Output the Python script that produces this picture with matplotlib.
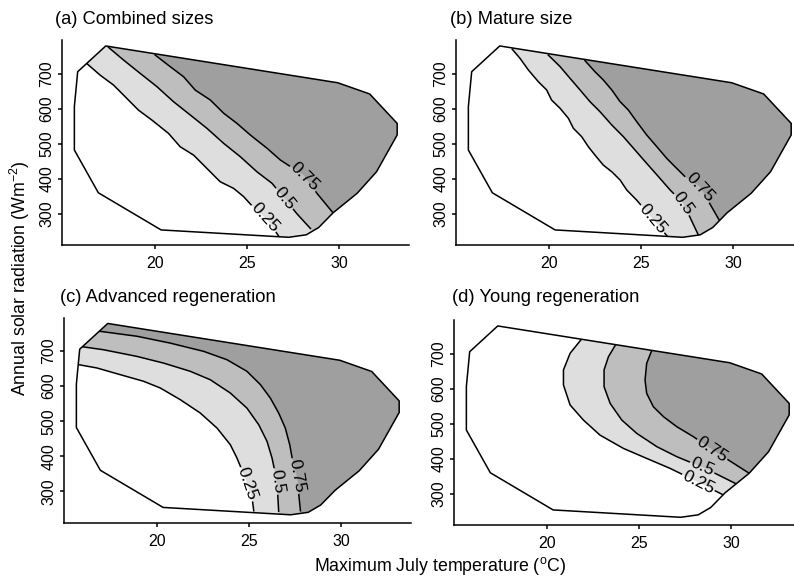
import numpy as np
import matplotlib
matplotlib.use("Agg")
import matplotlib.pyplot as plt
from matplotlib.patches import Polygon

plt.rcParams['font.family'] = ['Liberation Sans', 'DejaVu Sans']
plt.rcParams['mathtext.fontset'] = 'custom'
plt.rcParams['mathtext.rm'] = 'Liberation Sans'
plt.rcParams['mathtext.it'] = 'Liberation Sans:italic'

# ------------------------------------------------------------------
# climate space (max July temperature, annual solar radiation)
hull = [(17.34, 779), (29.91, 674), (31.64, 642), (33.13, 558), (33.13, 525),
        (32.01, 420), (30.96, 358.5), (29.66, 303), (28.88, 261), (28.2, 240),
        (27.25, 233), (20.34, 254), (16.94, 360), (15.64, 482), (15.64, 606),
        (15.82, 705.5)]

levels = ['0.25', '0.5', '0.75']
fills = ['#dedede', '#bebebe', '#9f9f9f']

# (a) Combined sizes
a_025 = [(16.31, 729), (17.03, 696), (17.76, 667.5), (18.3, 639), (19.11, 596),
         (19.84, 567.5), (20.74, 529.5), (21.37, 491.5), (22.1, 467.5), (22.82, 429.5),
         (23.54, 391.5), (24.27, 372.5), (24.81, 349), (25.4, 315), (26.1, 284), (26.7, 237)]
a_05 = [(17.49, 775), (18.3, 739), (19.2, 701), (20.11, 663), (21.01, 620), (21.92, 582),
        (22.82, 544), (23.73, 501), (24.63, 463), (25.53, 420), (26.35, 387), (27.02, 344),
        (27.7, 300), (28.43, 258)]
a_075 = [(20.02, 753), (20.83, 720), (21.56, 691), (22.19, 653), (23.0, 625), (23.73, 587),
         (24.45, 558), (25.17, 525), (26.08, 487), (26.8, 453.5), (28.07, 410), (28.79, 358),
         (29.65, 303)]
a_lab = [(26.08, 296.5), (27.04, 344), (28.1, 405)]

# (b) Mature size
b_025 = [(18.02, 769.5), (18.44, 743.5), (18.89, 710.5), (19.43, 677), (19.88, 653.5),
         (20.15, 624.5), (20.61, 601), (21.06, 572.5), (21.33, 544), (21.78, 520),
         (22.14, 491.5), (22.5, 467.5), (22.95, 439), (23.41, 420), (23.86, 396.5),
         (24.22, 368), (24.76, 339), (26.45, 234)]
b_05 = [(19.97, 753), (20.61, 720), (21.15, 686.5), (21.69, 653.5), (22.23, 620),
        (22.77, 591.5), (23.41, 553.5), (24.04, 520), (24.67, 482), (25.3, 444),
        (25.94, 406), (26.57, 368), (27.29, 330), (28.1, 239.5)]
b_075 = [(21.96, 737), (22.5, 705.5), (22.95, 682), (23.41, 653.5), (23.86, 620),
         (24.31, 596), (24.76, 563), (25.3, 525), (25.85, 491.5), (26.39, 458),
         (26.93, 429.5), (27.38, 406), (28.19, 377.5), (29.28, 277.5)]
b_lab = [(25.95, 300), (27.29, 330), (28.25, 378)]

# (c) Advanced regeneration
c_025 = [(15.75, 661.5), (16.75, 652), (18.01, 633), (19.28, 614), (20.18, 595),
         (21.27, 561.5), (22.35, 523.5), (23.26, 480.5), (23.98, 433), (24.34, 395),
         (24.79, 338), (25.16, 281), (25.25, 244.5)]
c_05 = [(15.84, 713.5), (17.11, 704), (18.92, 685), (20.36, 666), (21.81, 642.5),
        (22.89, 618.5), (23.98, 580.5), (24.88, 537.5), (25.52, 490), (25.97, 442.5),
        (26.24, 395), (26.51, 328.5), (26.6, 243)]
c_075 = [(16.93, 756.5), (18.92, 742.5), (20.72, 723), (22.53, 699.5), (23.8, 675.5),
         (24.88, 642.5), (25.61, 604.5), (26.15, 566), (26.6, 523.5), (26.96, 480.5),
         (27.2, 433), (27.33, 395), (27.6, 338), (27.78, 244.5)]
c_lab = [(25.06, 323.5), (26.51, 328.5), (27.8, 347)]

# (d) Young regeneration
d_025 = [(21.84, 739), (21.26, 701), (20.9, 653.5), (20.9, 610.5), (21.26, 553.5),
         (21.98, 510.5), (22.88, 467.5), (24.15, 429.5), (25.41, 401), (26.68, 372.5),
         (28.1, 336), (29.57, 296.5)]
d_05 = [(23.75, 727.5), (23.34, 691.5), (23.1, 653.5), (23.1, 605.5), (23.43, 558),
        (24.06, 510.5), (24.87, 472.5), (25.96, 434.5), (27.04, 406), (28.6, 372),
        (30.2, 330)]
d_075 = [(25.68, 708.5), (25.41, 672.5), (25.32, 624.5), (25.41, 586.5), (25.77, 548.5),
         (26.32, 520), (27.04, 491.5), (27.94, 463), (29.05, 423), (30.92, 360)]
d_lab = [(28.25, 336.5), (28.57, 394.5), (29.06, 434.5)]

titles = ['(a) Combined sizes', '(b) Mature size',
          '(c) Advanced regeneration', '(d) Young regeneration']
lines = [[a_025, a_05, a_075], [b_025, b_05, b_075],
         [c_025, c_05, c_075], [d_025, d_05, d_075]]
labpos = [a_lab, b_lab, c_lab, d_lab]

x_ticks = [20, 25, 30]
y_ticks = [300, 400, 500, 600, 700]

# ------------------------------------------------------------------
W, H = 794, 581
fig = plt.figure(figsize=(W / 100, H / 100), dpi=100)
renderer = fig.canvas.get_renderer()

# axes boxes in pixels: left, top, width, height
boxes = [(62, 40, 347, 205), (456, 40, 347, 205),
         (64, 317.5, 347, 205), (454, 320, 347, 205)]
title_xy = [(55, 23.5), (450, 23.5), (60, 302.5), (451.5, 302.5)]


def band_polygon(ax, pts):
    # contour line pushed past the hull, closed round the high side
    pts = np.asarray(pts, float)
    d = ax.transData.transform(pts)
    u0 = (d[0] - d[1]) / np.hypot(*(d[0] - d[1]))
    u1 = (d[-1] - d[-2]) / np.hypot(*(d[-1] - d[-2]))
    ends = ax.transData.inverted().transform([d[0] + 40 * u0, d[-1] + 40 * u1])
    far = np.array([(60, -500), (60, 2000), (-20, 2000)])
    return np.vstack([ends[0], pts, ends[1], far])


def draw_contour(ax, pts, text, lab, clip, fs=12.5):
    pts = np.asarray(pts, float)
    d = ax.transData.transform(pts)
    seg = np.diff(d, axis=0)
    seglen = np.hypot(seg[:, 0], seg[:, 1])
    cum = np.concatenate([[0], np.cumsum(seglen)])
    p = ax.transData.transform(lab)
    best = (1e9, 0)
    for i in range(len(seg)):
        t = np.clip(np.dot(p - d[i], seg[i]) / seglen[i] ** 2, 0, 1)
        q = d[i] + t * seg[i]
        dist = np.hypot(*(p - q))
        if dist < best[0]:
            best = (dist, cum[i] + t * seglen[i])
    s0 = best[1]
    tmp = ax.text(0, 0, text, fontsize=fs)
    half = tmp.get_window_extent(renderer).width / 2 + 2
    tmp.remove()

    def at(s):
        return np.array([np.interp(s, cum, d[:, 0]), np.interp(s, cum, d[:, 1])])

    s1, s2 = max(s0 - half, 0), min(s0 + half, cum[-1])
    part1 = np.vstack([d[cum < s1], at(s1)])
    part2 = np.vstack([at(s2), d[cum > s2]])
    inv = ax.transData.inverted()
    for part in (part1, part2):
        xy = inv.transform(part)
        ln, = ax.plot(xy[:, 0], xy[:, 1], color='black', lw=1.1, zorder=5,
                      solid_joinstyle='round')
        ln.set_clip_path(clip)
    v = at(s2) - at(s1)
    ang = np.degrees(np.arctan2(v[1], v[0]))
    if ang > 90:
        ang -= 180
    elif ang < -90:
        ang += 180
    c = inv.transform(at(s0))
    ax.text(c[0], c[1], text, fontsize=fs, rotation=ang, rotation_mode='anchor',
            ha='center', va='center', zorder=7)


for k in range(4):
    l, t, w, h = boxes[k]
    ax = fig.add_axes([l / W, 1 - (t + h) / H, w / W, h / H])
    ax.set_xlim(14.97, 33.77)
    ax.set_ylim(211, 796)
    for s in ['top', 'right']:
        ax.spines[s].set_visible(False)
    for s in ['left', 'bottom']:
        ax.spines[s].set_linewidth(1.1)
    ax.set_xticks(x_ticks)
    ax.set_xticklabels([str(v) for v in x_ticks], fontsize=11.5)
    ax.set_yticks(y_ticks)
    ax.set_yticklabels([str(v) for v in y_ticks], fontsize=11.5, rotation=90, va='center')
    ax.tick_params(axis='both', direction='out', length=3, width=1.1)
    ax.tick_params(axis='x', pad=5)
    ax.tick_params(axis='y', pad=2.5)

    clip = Polygon(hull, closed=True, transform=ax.transData)
    ax.add_patch(Polygon(hull, closed=True, facecolor='white', edgecolor='none', zorder=1))
    for j in range(3):
        band = Polygon(band_polygon(ax, lines[k][j]), closed=True,
                       facecolor=fills[j], edgecolor='none', zorder=2 + j)
        ax.add_patch(band)
        band.set_clip_path(clip)
    for j in range(3):
        draw_contour(ax, lines[k][j], levels[j], labpos[k][j], clip)
    ax.add_patch(Polygon(hull, closed=True, fill=False, edgecolor='black', lw=1.1,
                         zorder=6, joinstyle='round'))

    fig.text(title_xy[k][0] / W, 1 - title_xy[k][1] / H, titles[k], fontsize=13.2,
             ha='left', va='baseline')

fig.text(440 / W, 1 - 566 / H, r'Maximum July temperature ($^{\rm o}$C)',
         fontsize=12.8, ha='center', va='center')
fig.text(20 / W, 1 - 278.5 / H, r'Annual solar radiation (Wm$^{-2}$)',
         fontsize=12.8, rotation=90, ha='center', va='center')

fig.savefig('out.png', dpi=100)
